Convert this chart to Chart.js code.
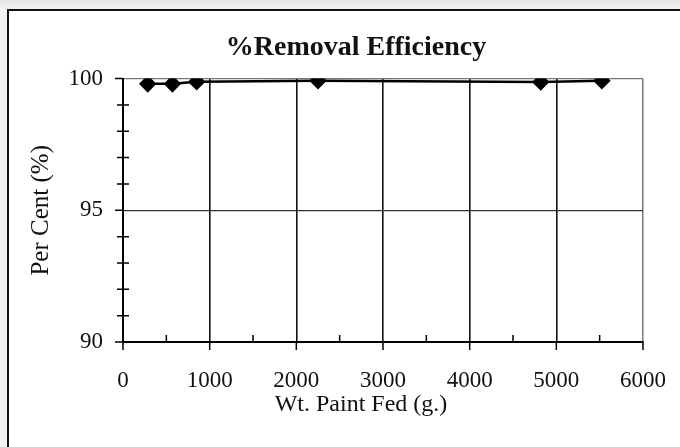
<!DOCTYPE html>
<html>
<head>
<meta charset="utf-8">
<script src="https://cdn.jsdelivr.net/npm/chart.js@4/dist/chart.umd.min.js"></script>
<style>
  html, body { margin: 0; padding: 0; }
  body { width: 680px; height: 447px; overflow: hidden; background: linear-gradient(#e4e4e4, #f2f2f2 10px); position: relative; }
  .frame { position: absolute; left: 7px; top: 9px; width: 740px; height: 480px; border: 2px solid #111; background: #fff; }
  .wrap { position: absolute; left: 8px; top: 0; width: 696px; height: 447px; }
</style>
</head>
<body>
<div class="frame"></div>
<div class="wrap"><canvas id="c"></canvas></div>
<script>
const feedWeights = [285, 570, 850, 2250, 4820, 5525];
const removalPct = [99.8, 99.8, 99.88, 99.92, 99.87, 99.92];
const xMajorStep = 1000, xMinorStep = 500;
const yMajorStep = 5, yMinorStep = 1;

const SERIF = "'Liberation Serif', 'DejaVu Serif', serif";

// small tick marks drawn through the scales, like the old spreadsheet plot
const tickMarks = {
  id: 'tickMarks',
  afterDraw(chart) {
    const { ctx, scales: { x, y } } = chart;
    const axisX = x.getPixelForValue(x.min);
    const axisY = y.getPixelForValue(y.min);
    ctx.save();
    ctx.strokeStyle = '#000';
    ctx.lineWidth = 1.5;
    ctx.beginPath();
    for (let v = y.min; v <= y.max + 1e-9; v += yMinorStep) {
      const py = y.getPixelForValue(v);
      if (Math.abs(v % yMajorStep) < 1e-9) { ctx.moveTo(axisX - 8, py); ctx.lineTo(axisX, py); }
      else { ctx.moveTo(axisX - 6, py); ctx.lineTo(axisX + 6, py); }
    }
    for (let v = x.min; v <= x.max + 1e-9; v += xMinorStep) {
      const px = x.getPixelForValue(v);
      if (Math.abs(v % xMajorStep) < 1e-9) { ctx.moveTo(px, axisY); ctx.lineTo(px, axisY + 8); }
      else { ctx.moveTo(px, axisY); ctx.lineTo(px, axisY - 7); }
    }
    ctx.stroke();
    // x axis title, centred where the original put it
    ctx.fillStyle = '#111';
    ctx.font = `24px ${SERIF}`;
    ctx.textAlign = 'center';
    ctx.textBaseline = 'middle';
    ctx.fillText('Wt. Paint Fed (g.)', 353, 405);
    ctx.restore();
  }
};

new Chart(document.getElementById('c'), {
  type: 'line',
  data: {
    datasets: [{
      data: feedWeights.map((w, i) => ({ x: w, y: removalPct[i] })),
      borderColor: '#000',
      backgroundColor: '#000',
      borderWidth: 2.5,
      pointStyle: 'rectRot',
      pointRadius: 7,
      pointHoverRadius: 7,
      tension: 0,
    }]
  },
  options: {
    responsive: true,
    maintainAspectRatio: false,
    animation: false,
    layout: { padding: 0 },
    plugins: {
      legend: { display: false },
      tooltip: { enabled: false },
      title: {
        display: true,
        text: '%Removal Efficiency',
        color: '#111',
        font: { family: SERIF, size: 28, weight: 'bold', lineHeight: 1.2 },
        padding: { top: 31, bottom: 14 },
      },
    },
    scales: {
      x: {
        type: 'linear',
        min: 0, max: 6000,
        afterFit: s => { s.height = 105; },
        ticks: {
          stepSize: xMinorStep,
          autoSkip: false,
          maxRotation: 0,
          padding: 25,
          color: '#111',
          font: { family: SERIF, size: 23 },
          callback: v => (v % xMajorStep === 0 ? String(v) : ''),
        },
        grid: {
          drawTicks: false,
          lineWidth: ctx => (ctx.tick && ctx.tick.value === 6000 ? 1.5 : 1.6),
          color: ctx => {
            const v = ctx.tick ? ctx.tick.value : null;
            if (v === 6000) return '#777';
            return v % xMajorStep === 0 ? '#111' : 'rgba(0,0,0,0)';
          },
        },
        border: { color: '#000', width: 2 },
      },
      y: {
        min: 90, max: 100,
        afterFit: s => { s.width = 115; },
        ticks: {
          stepSize: yMinorStep,
          autoSkip: false,
          padding: 20,
          color: '#111',
          font: { family: SERIF, size: 23 },
          callback: v => (v % yMajorStep === 0 ? String(v) : ''),
        },
        title: {
          display: true,
          text: 'Per Cent (%)',
          color: '#111',
          font: { family: SERIF, size: 25 },
          padding: { top: 18, bottom: 0 },
        },
        grid: {
          drawTicks: false,
          lineWidth: 1.2,
          color: ctx => {
            const v = ctx.tick ? ctx.tick.value : null;
            if (v === 100) return '#777';
            return v === 95 ? '#333' : 'rgba(0,0,0,0)';
          },
        },
        border: { color: '#000', width: 2 },
      },
      // empty right-hand spacer so the title centres over the whole frame
      spacer: {
        type: 'linear',
        position: 'right',
        display: true,
        afterFit: s => { s.width = 61; },
        ticks: { display: false },
        grid: { display: false, drawOnChartArea: false },
        border: { display: false },
      },
    },
  },
  plugins: [tickMarks],
});
</script>
</body>
</html>
